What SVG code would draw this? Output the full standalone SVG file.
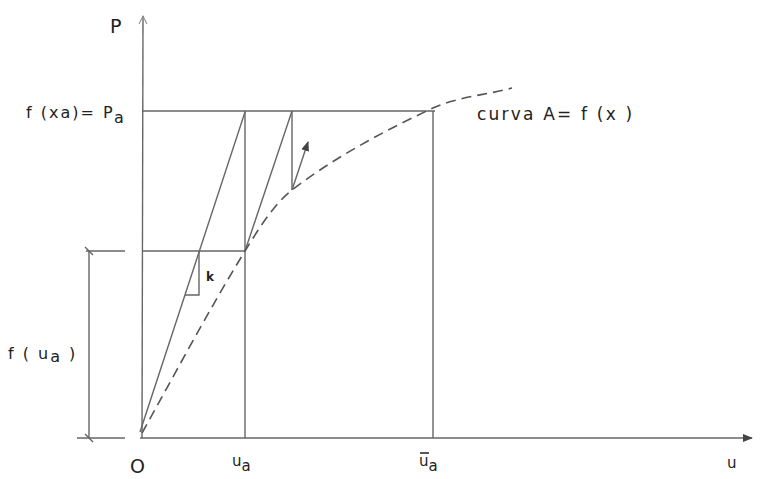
<svg xmlns="http://www.w3.org/2000/svg" width="760" height="479" viewBox="0 0 760 479">
<defs>
<style>
.ln{stroke:#666;stroke-width:1.4;fill:none}
.dash{stroke:#555;stroke-width:1.6;fill:none;stroke-dasharray:10 6}
.t{font-family:"DejaVu Sans","Liberation Sans",sans-serif;fill:#222}
</style>
<marker id="ah" markerWidth="10" markerHeight="8" refX="9" refY="4" orient="auto" markerUnits="userSpaceOnUse">
<path d="M0,0 L10,4 L0,8 Z" fill="#444"/>
</marker>
<marker id="ao" markerWidth="10" markerHeight="10" refX="8" refY="5" orient="auto" markerUnits="userSpaceOnUse">
<path d="M0,1 L8,5 L0,9" fill="none" stroke="#888" stroke-width="1"/>
</marker>
</defs>
<rect width="760" height="479" fill="#fff"/>
<g id="axes">
<line class="ln" x1="142" y1="438" x2="143" y2="16" marker-end="url(#ao)"/>
<line class="ln" x1="140" y1="438" x2="752" y2="438" marker-end="url(#ah)"/>
</g>
<g id="connectors">
<line class="ln" x1="142" y1="111" x2="435" y2="111"/>
<line class="ln" x1="245" y1="111" x2="245" y2="438"/>
<line class="ln" x1="433" y1="111" x2="433" y2="438"/>
<line class="ln" x1="142" y1="251" x2="245" y2="251"/>
<line class="ln" x1="140" y1="432" x2="245" y2="112"/>
<line class="ln" x1="245" y1="251" x2="292" y2="111"/>
<line class="ln" x1="292" y1="111" x2="292" y2="190"/>
<line class="ln" x1="292" y1="190" x2="308" y2="142" marker-end="url(#ah)"/>
<polyline class="ln" points="199,251 199,295 185,295"/>
<path class="dash" d="M142,433 C176,372 210,308 245,251 C258,230 273,205 292,190 C335,157 384,131 433,108 C457,97 486,95 512,88"/>
<line class="ln" x1="89" y1="251" x2="89" y2="438"/>
<line class="ln" x1="86" y1="251" x2="125" y2="251"/>
<line class="ln" x1="77" y1="438" x2="125" y2="438"/>
<line class="ln" x1="85" y1="247" x2="93" y2="255"/>
<line class="ln" x1="85" y1="434" x2="93" y2="442"/>
</g>
<g id="labels">
<text class="t" x="110" y="33" font-size="19">P</text>
<text class="t" x="26" y="118" font-size="16" letter-spacing="2">f (xa)= P<tspan dy="5">a</tspan></text>
<text class="t" x="477" y="120" font-size="17" letter-spacing="2.2">curva  A= f (x )</text>
<text class="t" x="206" y="281" font-size="12" font-weight="bold">k</text>
<text class="t" x="8" y="359" font-size="16" letter-spacing="2">f ( u<tspan dy="3">a</tspan><tspan dy="-3"> )</tspan></text>
<text class="t" x="130" y="473" font-size="19">O</text>
<text class="t" x="232" y="466" font-size="15">u<tspan dy="5">a</tspan></text>
<text class="t" x="419" y="466" font-size="15">u<tspan dy="5">a</tspan></text>
<line x1="420" y1="453" x2="429" y2="453" stroke="#222" stroke-width="1.5"/>
<text class="t" x="727" y="468" font-size="15">u</text>
</g>
</svg>
